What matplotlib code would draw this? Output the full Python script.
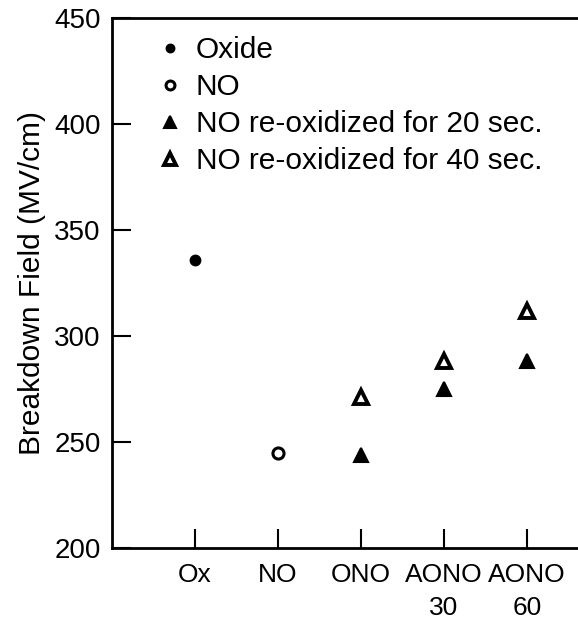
import matplotlib
matplotlib.use("Agg")
import matplotlib.pyplot as plt

categories = ["Ox", "NO", "ONO", "AONO\n30", "AONO\n60"]
oxide_x = ["Ox"]
oxide_y = [336]
no_x = ["NO"]
no_y = [245]
reox20_x = ["ONO", "AONO\n30", "AONO\n60"]
reox20_y = [244, 275, 288]
reox40_x = ["ONO", "AONO\n30", "AONO\n60"]
reox40_y = [271, 288, 312]
yticks = [200, 250, 300, 350, 400, 450]

plt.rcParams['font.family'] = ['Liberation Sans', 'DejaVu Sans']

fig = plt.figure(figsize=(5.78, 6.26), dpi=100)
ax = fig.add_axes([112/578, 78/626, 498/578, 530/626])

pos = {c: i + 1 for i, c in enumerate(categories)}

ax.plot([pos[c] for c in oxide_x], oxide_y, linestyle='none', marker='o',
        ms=7, mfc='black', mec='black', mew=1.5, label='Oxide')
ax.plot([pos[c] for c in no_x], no_y, linestyle='none', marker='o',
        ms=8, mfc='white', mec='black', mew=2.2, label='NO')
ax.plot([pos[c] for c in reox20_x], reox20_y, linestyle='none', marker='^',
        ms=10, mfc='black', mec='black', mew=1.5, label='NO re-oxidized for 20 sec.')
ax.plot([pos[c] for c in reox40_x], reox40_y, linestyle='none', marker='^',
        ms=10, mfc='white', mec='black', mew=2.8, label='NO re-oxidized for 40 sec.')

ax.set_xlim(0, 6)
ax.set_ylim(200, 450)
ax.set_xticks([pos[c] for c in categories])
ax.set_xticklabels(categories, fontsize=19, linespacing=1.45)
ax.set_yticks(yticks)
ax.set_yticklabels([str(v) for v in yticks], fontsize=20)
ax.tick_params(axis='both', direction='in', length=14, width=1.5)
ax.tick_params(axis='x', pad=11)
ax.tick_params(axis='y', pad=8)
for s in ax.spines.values():
    s.set_linewidth(2)

ax.set_ylabel('Breakdown Field (MV/cm)', fontsize=21.5, labelpad=6)

ax.legend(loc='upper left', bbox_to_anchor=(0.045, 1.005), frameon=False,
          fontsize=21.5, handlelength=1.0, handletextpad=0.35, labelspacing=0.3,
          borderaxespad=0.3, markerscale=0.8)

fig.savefig('out.png', dpi=100)
